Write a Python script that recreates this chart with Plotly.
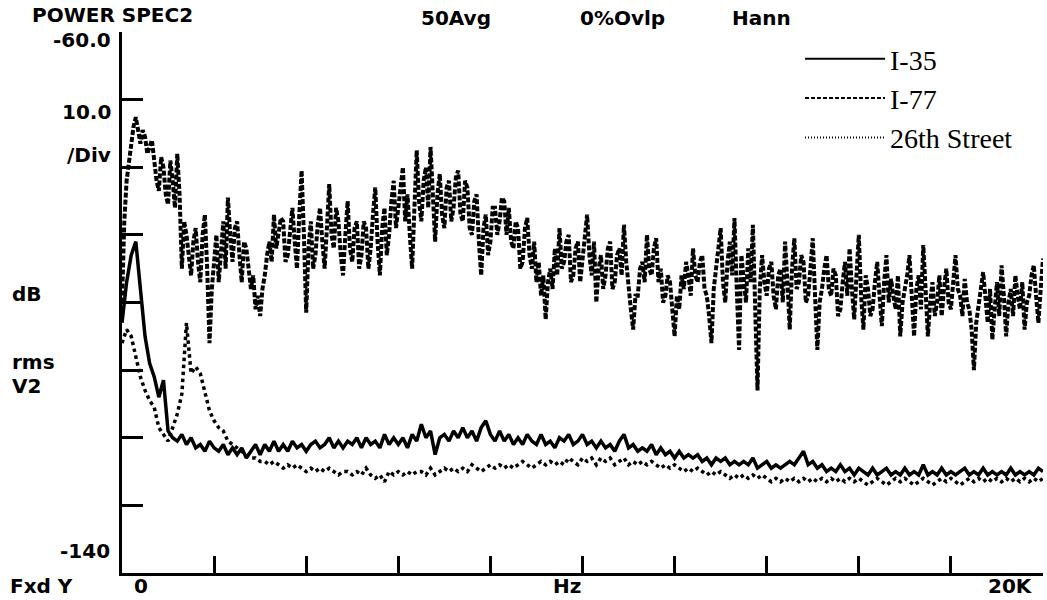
import plotly.graph_objects as go

# ---------------- data ----------------
freq_hz = [i * 100 for i in range(201)]      # 0 .. 20 kHz, 100 Hz lines
freq_hz_fine = [i * 50 for i in range(401)]  # 0 .. 20 kHz, 50 Hz lines (I-77)

i35_db = [
    -103, -97, -93, -91, -98, -105, -109, -111, -114, -111.5,
    -119, -120, -120.5, -119.5, -121, -120, -121.5, -121, -122, -120.5,
    -121.5, -122, -121, -122.5, -121.5, -122.5, -121.5, -123, -122, -121,
    -122.5, -121, -122, -120.5, -122, -121, -122, -120.5, -121.5, -121,
    -122, -121, -120.5, -121.5, -121, -120, -121.5, -120.5, -121.5, -120.5,
    -121, -120, -121.5, -120, -121, -120.5, -121.5, -119.5, -121, -120,
    -121, -120, -121.5, -119.5, -120.5, -118, -120, -119, -122.5, -120,
    -119.5, -120.5, -119, -120, -118.5, -120, -119, -120.5, -118.5, -117.5,
    -119.5, -120.5, -119, -120.5, -119.5, -121, -120, -121, -119.5, -120.5,
    -121, -119.5, -121, -120.5, -121.5, -120, -120.5, -119.5, -121, -120.5,
    -119.5, -121, -120.5, -121.5, -120.5, -121.5, -121, -122, -120.5, -119.5,
    -121.5, -121, -122, -121.5, -122, -121, -122.5, -121.5, -122.5, -122,
    -123, -122, -123, -122.5, -123, -122.5, -123.5, -123, -124, -123,
    -123.5, -123, -124, -123.5, -124, -123.5, -124, -123, -124.5, -124,
    -123.5, -124.5, -124, -124.5, -124, -123.5, -124, -123, -122, -124,
    -123.5, -124.5, -124, -125, -124.5, -125, -124, -125, -124.5, -125.5,
    -124.5, -125, -125.5, -124.5, -125.5, -125, -124.5, -125.5, -125, -125.5,
    -124.5, -125.5, -125, -125.5, -124, -125.5, -125, -125.5, -124.5, -125.5,
    -125, -125.5, -125, -124.5, -125.5, -125, -125.5, -124.5, -125.5, -125,
    -125.5, -125, -125.5, -124.5, -125.5, -125, -125.5, -125, -125.5, -124.5,
    -125,
]

i77_db = [
    -100, -88, -82, -79, -76, -74, -72.6, -75, -76.5, -74.5,
    -75.5, -78, -77, -76, -79, -82, -83.5, -78.5, -80, -84,
    -85.5, -79, -82, -86, -78, -84, -95, -88, -90, -93,
    -96, -91, -89, -94, -97, -90, -87, -95, -106, -98,
    -93, -90, -97, -92, -88, -95, -84.5, -90, -94, -89,
    -88, -93, -97, -91, -92, -95, -98, -96, -101, -99,
    -102, -98, -96, -93, -91, -94, -87, -92, -90, -87.5,
    -88, -94, -93, -89, -86, -91, -95, -87, -80.5, -90,
    -101.5, -92, -88, -95, -93, -88.5, -86, -91, -95, -89,
    -82.5, -90, -92, -86, -88, -93, -96, -90, -85, -92,
    -94, -89, -88, -95, -93, -88, -89, -95, -92, -87,
    -83, -91, -96, -89, -86, -93, -90, -85, -82, -89,
    -86, -83, -80, -88, -84, -90, -95, -86, -77.5, -85,
    -88, -82, -80, -86, -77, -84, -91, -84, -81, -87,
    -89, -83, -82, -88, -86, -81.5, -80.5, -87, -88, -82,
    -83, -89, -90, -85, -84, -91, -96, -89, -87, -93,
    -91, -86, -86, -90, -88, -84.5, -85, -90, -86, -91,
    -92, -88, -89, -95, -94, -89, -87.5, -93, -95, -91,
    -97, -94, -99, -96, -102.5, -97, -95, -98, -92, -96,
    -89, -95, -94, -91, -90, -97, -96, -92, -91, -97,
    -94, -90, -87, -93, -96, -91, -100, -95, -93, -98,
    -96, -92, -91, -98, -97, -93, -92, -96, -88.5, -94,
    -98, -101, -104, -99, -99, -95, -94, -97, -90, -95,
    -96, -92, -90.5, -97, -95, -100, -99, -96, -97, -101,
    -105, -99, -101, -96, -98, -94, -96, -99, -92, -96,
    -97, -94, -93, -98, -99, -102, -106, -98, -95, -92,
    -89, -97, -100, -94, -91, -96, -87.5, -98, -107, -93,
    -96, -100, -92, -97, -88.5, -102, -113, -98, -93, -97,
    -99, -95, -94, -99, -101, -96, -95, -100, -91, -97,
    -104, -95, -90.5, -98, -97, -93, -94, -100, -99, -95,
    -90.5, -99, -107, -100, -98, -95, -93, -98, -99, -95,
    -96, -102, -101, -97, -94, -99, -92, -98, -102.5, -96,
    -90, -99, -104, -96, -98, -102, -101, -97, -94, -99,
    -103.5, -97, -93, -100, -96.5, -99, -101, -96, -105, -100,
    -98, -96, -93, -100, -105, -98, -96, -101, -91.5, -98,
    -105, -100, -97, -102, -100, -96, -102, -98, -95, -100,
    -101, -97, -93, -98, -99, -102, -96.5, -100, -101, -104,
    -110, -103, -100, -98, -95.5, -100, -103, -98, -105.5, -101,
    -97, -102, -94.5, -99, -105, -100, -98, -102, -96, -99,
    -101, -97, -104, -100, -99, -96, -94.5, -99, -103, -98,
    -93.5,
]

street26_db = [
    -106, -104, -105, -108, -111, -113, -114.5, -115.5, -118.5, -119.5,
    -120.5, -118.5, -116.5, -113.5, -103, -110.5, -109.5, -110.5, -113.5, -116,
    -117.5, -118.5, -119, -120.5, -121, -121.5, -122, -122.5, -123, -123,
    -123.5, -123.5, -124, -123.5, -124, -124.5, -124, -124.5, -124, -124.5,
    -125, -124.5, -125, -124.5, -125, -124.5, -125, -125.5, -125, -125,
    -125.5, -125, -125.5, -124.5, -125.5, -126, -125.5, -126.5, -125, -125.5,
    -125, -125.5, -125, -125.5, -125, -125, -125.5, -124.5, -125.5, -125,
    -124.5, -125, -124.5, -125, -124.5, -125, -124, -124.5, -125, -124.5,
    -124, -124.5, -124, -124.5, -124, -124.5, -124, -123.5, -124, -124.5,
    -124, -123.5, -124, -123.5, -124, -123.5, -124, -123, -123.5, -124,
    -123, -123.5, -123, -124, -123, -123.5, -123, -124, -123.5, -123,
    -124, -123.5, -124, -123.5, -124, -123.5, -124, -124.5, -124, -124.5,
    -124, -124.5, -125, -124.5, -125, -124.5, -125, -125.5, -125, -125.5,
    -125, -125.5, -126, -125.5, -126, -125.5, -126, -125.5, -126, -125.5,
    -126, -126.5, -126, -126.5, -126, -126.5, -126, -126.5, -126, -126.5,
    -126, -126.5, -126, -126.5, -126, -126.5, -126, -126.5, -126, -126.5,
    -126, -126.5, -127, -126.5, -126, -126.5, -127, -126.5, -126, -126.5,
    -126, -126.5, -127, -126.5, -126, -126.5, -127, -126.5, -126, -126.5,
    -126, -126.5, -127, -126.5, -126, -126.5, -126, -126.5, -126, -126.5,
    -126, -126.5, -126, -126.5, -126, -126.5, -126, -126.5, -126, -126.5,
    -126,
]

series_names = ["I-35", "I-77", "26th Street"]
y_ticks = [-140, -130, -120, -110, -100, -90, -80, -70, -60]
x_ticks = [0, 2000, 4000, 6000, 8000, 10000, 12000, 14000, 16000, 18000, 20000]

# ---------------- layout geometry (pixels) ----------------
W, H = 1047, 600
L, R, T, B = 122, 1043, 32, 573


def px(x):
    return (x - L) / (R - L)


def py(y):
    return (B - y) / (B - T)


styles = [
    dict(color="black", width=3.5, dash="solid"),
    dict(color="black", width=4, dash="5px,2px"),
    dict(color="black", width=3.5, dash="dot"),
]
legend_styles = [
    dict(color="black", width=2, dash="solid"),
    dict(color="black", width=2, dash="4px,2px"),
    dict(color="black", width=2, dash="1px,2px"),
]

fig = go.Figure()
data_sets = [(freq_hz, i35_db), (freq_hz_fine, i77_db), (freq_hz, street26_db)]
for (xs, ys), name, st in zip(data_sets, series_names, styles):
    fig.add_trace(go.Scatter(x=xs, y=ys, name=name, mode="lines", line=st,
                             showlegend=False, legendgroup=name))
# legend entries drawn with the thinner strokes of the reference key
for name, st in zip(series_names, legend_styles):
    fig.add_trace(go.Scatter(x=[None], y=[None], name=name, mode="lines", line=st,
                             showlegend=True, legendgroup=name))

plot_font = dict(family="DejaVu Sans", size=20, color="black", weight="bold")

labels = [
    # text, x, y, xanchor
    ("POWER SPEC2", 30, 15, "left"),
    ("50Avg", 456, 18, "center"),
    ("0%Ovlp", 622, 18, "center"),
    ("Hann", 761, 18, "center"),
    ("-60.0", 113, 40, "right"),
    ("10.0", 113, 112, "right"),
    ("/Div", 113, 155, "right"),
    ("dB", 10, 294, "left"),
    ("rms", 10, 362, "left"),
    ("V2", 10, 386, "left"),
    ("-140", 112, 551, "right"),
    ("Fxd Y", 8, 586, "left"),
    ("0", 141, 586, "center"),
    ("Hz", 567, 586, "center"),
    ("20K", 1010, 586, "center"),
]
annotations = []
for text, x, y, xa in labels:
    annotations.append(dict(text=text, x=px(x), y=py(y), xref="paper", yref="paper",
                            xanchor=xa, yanchor="middle", showarrow=False,
                            font=plot_font))

fig.update_layout(
    width=W, height=H,
    margin=dict(l=L, r=W - R, t=T, b=H - B, pad=0),
    paper_bgcolor="white", plot_bgcolor="white",
    showlegend=True,
    legend=dict(x=px(800), y=py(34), xanchor="left", yanchor="top",
                font=dict(family="Liberation Serif", size=28, color="black"),
                bgcolor="rgba(255,255,255,0)", itemwidth=80,
                tracegroupgap=0),
    annotations=annotations,
)
fig.update_xaxes(range=[0, 20000], showgrid=False, zeroline=False,
                 showline=True, linecolor="black", linewidth=3,
                 ticks="inside", tickvals=x_ticks, ticklen=17, tickwidth=2.5,
                 tickcolor="black", showticklabels=False, mirror=False)
fig.update_yaxes(range=[-140, -60], showgrid=False, zeroline=False,
                 showline=True, linecolor="black", linewidth=3,
                 ticks="inside", tickvals=y_ticks, ticklen=21, tickwidth=2.5,
                 tickcolor="black", showticklabels=False, mirror=False)

fig.write_html("out.html")
